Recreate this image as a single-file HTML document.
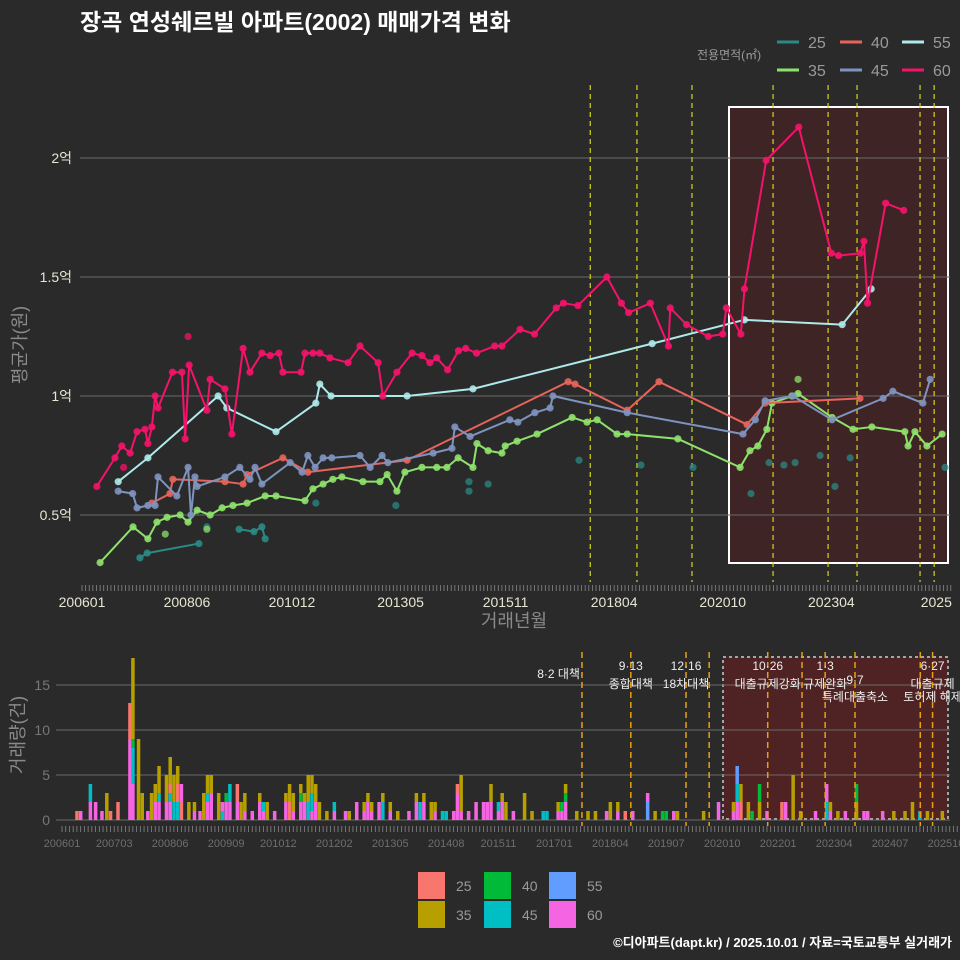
<!DOCTYPE html>
<html><head><meta charset="utf-8">
<style>
html,body{margin:0;padding:0;background:#2b2a2b;}
svg{display:block;font-family:"Liberation Sans","Noto Sans CJK KR",sans-serif;}
</style></head>
<body>
<svg id="c" width="960" height="960" viewBox="0 0 960 960">
<rect x="0" y="0" width="960" height="960" fill="#2b2a2b"/>
<text x="80" y="30" fill="#ffffff" font-size="23" font-weight="bold">장곡 연성쉐르빌 아파트(2002) 매매가격 변화</text>
<text x="697" y="59" fill="#9a9a9a" font-size="12">전용면적(㎡)</text>
<g id="topLegend"></g>
<g id="top"></g>
<g id="bot"></g>
<text transform="translate(26,345) rotate(-90)" text-anchor="middle" fill="#8a8a8a" font-size="18">평균가(원)</text>
<text x="514" y="627" text-anchor="middle" fill="#8a8a8a" font-size="18">거래년월</text>
<text transform="translate(24,735) rotate(-90)" text-anchor="middle" fill="#8a8a8a" font-size="18">거래량(건)</text>
<g id="botLegend"></g>
<text x="952" y="947" text-anchor="end" fill="#ffffff" font-size="13" font-weight="bold">©디아파트(dapt.kr) / 2025.10.01 / 자료=국토교통부 실거래가</text>
</svg>
<script>
const sizes = ["25","35","40","45","55","60"];
const lineColors = {"25":"#2a8a84","35":"#8ee26c","40":"#e8645a","45":"#7f93bf","55":"#aeeaea","60":"#f5136a"};
const m60 = [4.1,9.1,11,13.3,15.2,17.4,18.2,19.3,20.2,21,25,27.6,28.5,29.6,34.5,35.4,39.5,41.4,44.5,46.4,49.7,52,54.4,55.5,60.5,61.6,63.8,65.7,68.5,73.5,76.8,81.8,83.1,87,91.2,93.9,96.1,98,101,104,106,109,114,116,121,125,131,133,137,145,149,151,157,162,162.5,167,173,177,178,182,183,189,198,207,209,215,216,217,222,227];
const v60 = [0.62,0.74,0.79,0.76,0.85,0.86,0.80,0.87,1.00,0.95,1.10,1.10,0.82,1.13,0.94,1.07,1.03,0.84,1.20,1.10,1.18,1.17,1.18,1.10,1.10,1.18,1.18,1.18,1.16,1.14,1.21,1.14,1.00,1.10,1.18,1.17,1.14,1.16,1.11,1.19,1.20,1.18,1.21,1.21,1.28,1.26,1.37,1.39,1.38,1.50,1.39,1.35,1.39,1.21,1.37,1.30,1.25,1.26,1.37,1.26,1.45,1.99,2.13,1.60,1.59,1.60,1.65,1.39,1.81,1.78];
const m55 = [10,18.2,37.6,40,53.6,64.6,65.7,68.8,89.8,108,157.5,183,210,218];
const v55 = [0.64,0.74,1.00,0.95,0.85,0.97,1.05,1.00,1.00,1.03,1.22,1.32,1.30,1.45];
const m45 = [10,14,15.2,18.2,20.2,21,26.2,29.3,30.1,31.2,31.8,39.5,43.6,46.4,47.8,49.7,57.5,60.8,62.4,64.4,66.6,69,76.8,79.6,82.9,84.5,97,102.2,103,107.2,118.2,120.4,125.1,129.3,130.1,150.6,182.6,186,188.7,196.4,207.2,221.3,224,232.3,234.3];
const v45 = [0.60,0.59,0.53,0.54,0.54,0.66,0.58,0.70,0.50,0.66,0.62,0.66,0.70,0.65,0.70,0.63,0.72,0.68,0.75,0.70,0.74,0.74,0.75,0.70,0.75,0.72,0.76,0.78,0.87,0.83,0.90,0.89,0.93,0.95,1.00,0.93,0.84,0.90,0.98,1.00,0.90,0.99,1.02,0.97,1.07];
const m40 = [19.3,24.3,25.1,39.5,44.5,45.6,55.5,62.4,89.8,134.3,136.2,150.6,159.4,183.7,188.7,214.9];
const v40 = [0.55,0.59,0.65,0.64,0.63,0.67,0.74,0.68,0.73,1.06,1.05,0.94,1.06,0.88,0.97,0.99];
const m35 = [5,14.1,18.2,20.7,23.5,27.1,29.3,31.8,35.4,38.7,41.7,45.6,50.6,53.6,61.6,63.8,66.6,69.3,71.8,77.6,82.3,84.3,87,89.2,93.9,98,100.8,103.9,108,109.1,112.2,116,116.9,120.2,125.7,135.4,139.5,142.3,147.8,150.6,164.6,181.8,184.5,186.7,189.2,190.6,196.1,197.8,207.2,213,218.2,227.3,228.2,230.1,233.4,237.6];
const v35 = [0.30,0.45,0.40,0.47,0.49,0.50,0.47,0.52,0.50,0.53,0.54,0.55,0.58,0.58,0.56,0.61,0.63,0.65,0.66,0.64,0.64,0.67,0.60,0.68,0.70,0.70,0.70,0.74,0.70,0.80,0.77,0.76,0.79,0.81,0.84,0.91,0.89,0.90,0.84,0.84,0.82,0.70,0.77,0.79,0.86,0.97,1.00,1.01,0.91,0.86,0.87,0.85,0.79,0.85,0.79,0.84];
const m25a = [16,18,32.3];
const v25a = [0.32,0.34,0.38];
const m25b = [43.4,47.5,49.7,50.6];
const v25b = [0.44,0.43,0.45,0.40];
const m25pts = [34.5,64.6,86.7,106.9,106.9,112.2,137.3,154.4,168.8,184.8,189.8,193.9,197,203.9,208,212.2,238.4];
const v25pts = [0.45,0.55,0.54,0.64,0.60,0.63,0.73,0.71,0.70,0.59,0.72,0.71,0.72,0.75,0.62,0.74,0.70];
const m35pts = [23,34.5,197.8];
const v35pts = [0.42,0.44,1.07];
const m60pts = [29.3,11.5];
const v60pts = [1.25,0.70];
const yTicks = [0.5,1,1.5,2];
const yTickLabels = ["0.5억","1억","1.5억","2억"];
const xTickMonths = [0,29,58,88,117,147,177,207,236];
const xTickLabels = ["200601","200806","201012","201305","201511","201804","202010","202304","2025"];
const policyMonthsTop = [140.4,153.3,168.5,190.9,206.1,214.1,231.5,235.4];

const volMonths = [4,5,7.6,9,10.7,12,13,15,18.2,19,20.5,21.5,23,24,25,26,28,29,30,31,32,34,35.5,37,38,39,40,42,43,44,45,47,48,49,51,53,54,55,57,60,61,62,64,65,66,67,68,69,71,73,76,77,79,81,82,83,85,86,88,90,93,95,96,97,99,100,102,103,105,106,107,109,111,113,114,115,117,118,119,121,124,126,129,130,133,134,135,138,141,143,146,147,149,151,153,157,159,161,162,164,165,172,176,180,181,182,184,185,187,189,193,194,196,198,202,205,206,208,210,213,215,216,220,223,226,228,230,232,236];
const volStacks = ["25:1","60:1","60:2,45:2","60:2","60:1","35:3","25:1","25:2","60:9,25:4","60:4,45:4,40:1,35:9","35:9","35:3","60:1","35:3","60:2,35:2","60:2,45:1,35:3","60:2,35:3","60:2,45:1,25:1,35:3","45:2,35:3","45:2,25:2,35:2","25:2,60:2","35:2","60:1,35:1","60:1","35:3","60:2,45:1,35:2","60:3,35:2","35:3","45:1,60:1","60:2,40:1","60:2,45:2","60:2,25:2","35:2","60:1,35:2","60:1","60:2,35:1","60:1,45:1","35:2","60:1","60:2,35:1","25:2,35:2","60:1,35:2","60:2,40:1,35:1","60:2,35:1","45:2,35:3","60:1,45:2,35:2","60:2,35:2","35:2","35:1","60:1,45:1","60:1","35:1","60:2","60:1,35:1","60:2,35:1","60:1,35:1","60:2","45:2,35:1","60:1,35:1","35:1","60:1","60:2,35:1","45:2","60:2,35:1","35:2","60:1,35:1","45:1","45:1","60:1","60:3,25:1","60:1,35:4","60:1","60:2","60:2","60:2","60:2,35:2","60:1,45:1","60:2,35:1","35:2","60:1","35:3","35:1","45:1","45:1","60:1,35:1","60:1,40:1","60:2,40:1,35:1","35:1","35:1","35:1","60:1","35:2","60:1,35:1","25:1","60:1","55:2,60:1","35:1","40:1","40:1","60:1","35:1","35:1","60:2","60:1,35:1","60:2,45:2,55:2","25:2,35:2","35:2","40:1","35:2,40:2","60:1","25:2","60:2","35:5","35:1","60:1","45:2,60:2","60:1,35:1","35:1","60:1","35:2,40:2","60:1","60:1","60:1","35:1","35:1","35:2","45:1","35:1","35:1"];
const volYTicks = [0,5,10,15];
const volXTickMonths = [0,14,29,44,58,73,88,103,117,132,147,162,177,192,207,222,237];
const volXTickLabels = ["200601","200703","200806","200909","201012","201202","201305","201408","201511","201701","201804","201907","202010","202201","202304","202407","202510"];
const volColors = {"25":"#f8766d","35":"#b79f00","40":"#00ba38","45":"#00bfc4","55":"#619cff","60":"#f564e3"};
const policyMonths = [139.4,152.5,167.3,173.5,189.2,198.4,204.6,212.6,230.1,233.4];
const policyLine1 = ["8·2 대책","9·13","12·16","","10·26","","1·3","","","6·27"];
const policyLine2 = ["","종합대책","18차대책","","대출규제강화","","규제완화","9·7","","대출규제"];
const policyLine3 = ["","","","","","","","특례대출축소","","토허제 해제"];

const NS="http://www.w3.org/2000/svg";
function mk(parent,tag,attrs,text){const e=document.createElementNS(NS,tag);for(const k in attrs)e.setAttribute(k,attrs[k]);if(text!==undefined)e.textContent=text;parent.appendChild(e);return e;}
const xTop = m => 82 + m*3.62;
const yTop = v => 396 - (v-1)*238;
const xBot = m => 62 + m*3.73;
const yBot = n => 820 - n*9;

const topG = document.getElementById('top');
let hb = mk(topG,'rect',{x:729,y:107,width:219,height:456,fill:'rgba(95,25,25,0.38)',stroke:'#ffffff','stroke-width':2});


yTicks.forEach((t,i)=>{
  let g=mk(topG,'line',{x1:80,x2:950,y1:yTop(t),y2:yTop(t),stroke:'#6a6a6a','stroke-width':1});
  
  
  let l=mk(topG,'text',{x:72,y:yTop(t)+5,'text-anchor':'end',fill:'#e6e6d2','font-size':14},yTickLabels[i]);
  
  
});
for(let m=0;m<=240;m+=1){
  let t=mk(topG,'line',{x1:xTop(m),x2:xTop(m),y1:585,y2:591,stroke:'#888','stroke-width':0.8});
  
  
}
xTickMonths.forEach((m,i)=>{
  let l=mk(topG,'text',{x:xTop(m),y:607,'text-anchor':'middle',fill:'#e6e6d2','font-size':14},xTickLabels[i]);
  
  
});
policyMonthsTop.forEach(m=>{
  let l=mk(topG,'line',{x1:xTop(m),x2:xTop(m),y1:85,y2:582,stroke:'#d4d41e','stroke-width':1.2,'stroke-dasharray':'5,4'});
  
  
});
function series(ms,vs,color,name,withLine){
  const g=mk(topG,'g',{});
  
  
  if(withLine){
    let p=mk(g,'polyline',{points:ms.map((m,i)=>xTop(m)+','+yTop(vs[i])).join(' '),fill:'none',stroke:color,'stroke-width':2,'stroke-linejoin':'round'});
    
    
  }
  ms.forEach((m,i)=>{
    let c=mk(g,'circle',{cx:xTop(m),cy:yTop(vs[i]),r:3.6,fill:color,'fill-opacity':withLine?0.9:0.75});
    
    
  });
}
series(m25a,v25a,lineColors["25"],'series-25-a',true);
series(m25b,v25b,lineColors["25"],'series-25-b',true);
series(m25pts,v25pts,lineColors["25"],'series-25-points',false);
series(m35,v35,lineColors["35"],'series-35',true);
series(m35pts,v35pts,lineColors["35"],'series-35-points',false);
series(m40,v40,lineColors["40"],'series-40',true);
series(m45,v45,lineColors["45"],'series-45',true);
series(m55,v55,lineColors["55"],'series-55',true);
series(m60,v60,lineColors["60"],'series-60',true);
series(m60pts,v60pts,lineColors["60"],'series-60-points',false);

const tl=document.getElementById('topLegend');
const legPos=[["25",777,42],["40",840,42],["55",902,42],["35",777,70],["45",840,70],["60",902,70]];
legPos.forEach(([s,x,y])=>{
  let l=mk(tl,'line',{x1:x,x2:x+22,y1:y,y2:y,stroke:lineColors[s],'stroke-width':3});
  
  
  let t=mk(tl,'text',{x:x+31,y:y+6,fill:'#9a9a9a','font-size':16},s);
  
  
});

const botG=document.getElementById('bot');
let vb=mk(botG,'rect',{x:723,y:657,width:225,height:162,fill:'rgba(110,30,30,0.55)',stroke:'#cccccc','stroke-width':1.5,'stroke-dasharray':'3,3'});


volYTicks.forEach(t=>{
  let g=mk(botG,'line',{x1:56,x2:950,y1:yBot(t),y2:yBot(t),stroke:'#6a6a6a','stroke-width':1});
  
  
  let l=mk(botG,'text',{x:50,y:yBot(t)+5,'text-anchor':'end',fill:'#777','font-size':14},String(t));
  
  
});
volMonths.forEach((m,i)=>{
  let acc=0;
  volStacks[i].split(',').forEach(part=>{
    const [s,n]=part.split(':');const c=+n;
    let r=mk(botG,'rect',{x:xBot(m)-1.7,y:yBot(acc+c),width:3.5,height:c*9,fill:volColors[s]});
    
    
    acc+=c;
  });
});
for(let m=0;m<=240;m+=1){
  let t=mk(botG,'line',{x1:xBot(m),x2:xBot(m),y1:826,y2:832,stroke:'#888','stroke-width':0.8});
  
  
}
volXTickMonths.forEach((m,i)=>{
  let l=mk(botG,'text',{x:xBot(m),y:847,'text-anchor':'middle',fill:'#6e6e6e','font-size':11},volXTickLabels[i]);
  
  
});
policyMonths.forEach((m,i)=>{
  const x=xBot(m);
  let l=mk(botG,'line',{x1:x,x2:x,y1:652,y2:826,stroke:'#e8a010','stroke-width':1.5,'stroke-dasharray':'6,4'});
  
  
  if(policyLine1[i]){
    const anchor=i===0?'end':'middle';
    let t=mk(botG,'text',{x:i===0?x-2:x,y:i===0?678:670,'text-anchor':anchor,fill:'#eeeeee','font-size':12},policyLine1[i]);
    
    
  }
  if(policyLine2[i]){
    let t=mk(botG,'text',{x:x,y:i===7?684:688,'text-anchor':'middle',fill:'#eeeeee','font-size':12},policyLine2[i]);
    
    
  }
  if(policyLine3[i]){
    let t=mk(botG,'text',{x:x,y:701,'text-anchor':'middle',fill:'#eeeeee','font-size':12},policyLine3[i]);
    
    
  }
});
const bl=document.getElementById('botLegend');
const bLeg=[["25",418,872],["35",418,901],["40",484,872],["45",484,901],["55",549,872],["60",549,901]];
bLeg.forEach(([s,x,y])=>{
  let r=mk(bl,'rect',{x:x,y:y,width:27,height:27,fill:volColors[s]});
  
  
  let t=mk(bl,'text',{x:x+38,y:y+19,fill:'#9a9a9a','font-size':14},s);
  
  
});
</script>
</body></html>
